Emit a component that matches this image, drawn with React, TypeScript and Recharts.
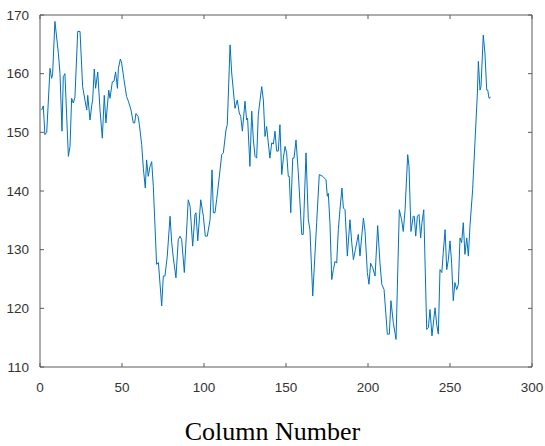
import { LineChart, Line, XAxis, YAxis } from "recharts";

const columnNumbers: number[] = [
  1, 2, 3, 4.1, 6.1, 7.1, 7.7, 9.1, 11.2, 12.2,
  13.4, 14.2, 15.2, 17.3, 18.3, 19.3, 20.3, 21.3, 23, 24.4,
  26, 27.4, 28.5, 29.1, 30.5, 31.5, 32.1, 33.1, 33.9, 35.2,
  36.6, 38, 39.2, 40.2, 41.9, 42.7, 44.1, 45.1, 46.1, 47.2,
  47.8, 49, 49.8, 51.2, 52.8, 53.9, 55.5, 56.9, 57.7, 58.5,
  59.8, 60.6, 62, 63, 64.2, 65, 66, 67.1, 68.1, 69.1,
  71.1, 72.2, 74.2, 75.2, 76.2, 77.6, 79.3, 80.3, 81.3, 82.9,
  84.3, 85.4, 86.4, 88, 90.4, 91.5, 93.1, 94.5, 95.1, 96.2,
  98, 99.6, 100.8, 102, 103.7, 104.9, 105.7, 106.7, 107.7, 109.8,
  110.8, 111.8, 113.4, 114.2, 115.9, 116.9, 118.9, 120.3, 121.5, 122.4,
  123.4, 125, 126, 126.6, 128, 129.1, 130.1, 131.1, 132.1, 133.1,
  135.2, 136.2, 137.2, 138.2, 139.2, 140.2, 141.3, 142.3, 143.3, 144.3,
  145.3, 146.3, 147.4, 148.4, 149.4, 150.4, 151.4, 152, 152.9, 154.1,
  154.9, 156.1, 157.5, 159.6, 160.5, 162.2, 163.6, 164.6, 166.3, 168.7,
  170.3, 172.4, 174.4, 175.2, 175.8, 176.8, 177.9, 178.9, 179.9, 180.9,
  181.9, 182.9, 184.1, 185, 186, 187.4, 189, 190.1, 191.1, 192.3,
  194.1, 195.1, 197.2, 198.2, 199.6, 200.6, 201.6, 202.9, 204.3, 205.9,
  207.3, 208.4, 209.8, 211.8, 213, 214, 215.4, 217.1, 219.1, 220.5,
  221.5, 222.6, 224.2, 225, 226.2, 227.6, 228.2, 229.1, 230.1, 231.1,
  232.1, 232.9, 234, 235.8, 236.8, 237.8, 239, 240.9, 241.9, 242.9,
  243.9, 245, 245.9, 247, 248, 249, 250, 251, 252, 253,
  254.1, 255.1, 256.1, 257.1, 258.1, 259.1, 260.2, 261.2, 262.2, 263.8,
  265.2, 266.7, 267.3, 268.3, 268.9, 270.3, 271.3, 272.4, 273, 273.8,
  274.8,
];

const values: number[] = [
  153.8, 154.5, 149.6, 150, 160.9, 159.2, 160, 168.9, 163.5, 160,
  150.2, 159.5, 160, 145.9, 147.6, 155.8, 155, 156, 167.2, 167.2,
  157.8, 155.5, 153.8, 156.3, 152.1, 154.5, 155.5, 160.8, 157.5, 160.3,
  153.8, 149, 156.3, 151.6, 157.2, 155.8, 158.6, 158.7, 160.3, 157.5,
  160.9, 162.5, 161.8, 159, 156.1, 155.3, 153.8, 151.6, 151.6, 153.2,
  152.7, 151.3, 147.9, 143.9, 140.5, 145.3, 142.5, 144.2, 145, 140.8,
  127.5, 127.8, 120.4, 125.5, 125.5, 128.9, 135.7, 131.2, 128.6, 125.2,
  131.7, 132.3, 131.7, 126.1, 138.5, 137.4, 130.6, 136, 136.3, 131.5,
  138.5, 135.7, 132.3, 132.3, 135.1, 143.6, 136.3, 136.3, 138.5, 143.6,
  146.2, 146.5, 150.4, 151.3, 164.9, 160.1, 154.1, 155.5, 153.3, 152.7,
  150.2, 155.3, 152.1, 152.4, 144.2, 153.6, 148.7, 145.9, 145.6, 153,
  157.8, 155.5, 149.3, 151, 148.2, 145.6, 148.2, 148, 150.2, 146.8,
  146.8, 151.3, 142.8, 145.6, 147.6, 146.5, 142.5, 142.5, 136.3, 145.6,
  145.6, 148.7, 143.1, 132.6, 132.6, 146.5, 135.1, 133.4, 122.1, 134.6,
  142.8, 142.5, 141.9, 139.1, 139.6, 134.6, 124.9, 126.6, 128, 127.7,
  133.4, 136.8, 140.5, 137.1, 136.8, 128.9, 135.1, 131.2, 128.3, 130,
  132.6, 128.9, 135.4, 133.1, 126.1, 124.1, 127.7, 126.9, 125.5, 134.1,
  127.7, 124.1, 123.2, 115.6, 115.6, 121.3, 117.6, 114.7, 136.8, 135.1,
  133.1, 136.8, 146.2, 144.2, 133.1, 135.7, 135.7, 132.3, 135.7, 136,
  132, 134.6, 136.8, 116.4, 116.7, 119.8, 115.3, 120.1, 117.2, 115.6,
  126.6, 126.1, 129.5, 133.4, 126.6, 128.3, 131.5, 127.7, 121.3, 124.4,
  123.2, 124.1, 132, 131.2, 134.6, 129.2, 132, 128.9, 134.1, 140.2,
  148.2, 156.7, 162.1, 157.2, 157.8, 166.6, 163.5, 157.2, 157.2, 155.8,
  156,
];

const xTicks = [0, 50, 100, 150, 200, 250, 300];
const yTicks = [110, 120, 130, 140, 150, 160, 170];

const data = columnNumbers.map((c, i) => ({ column: c, value: values[i] }));

const axisColor = "#5a5a5a";
const tickFont = { fill: "#333", fontSize: 13.5, fontFamily: "'Liberation Sans', Arial, sans-serif" };
const blank = () => "";

export default function App() {
  return (
    <div style={{ position: "absolute", left: 0, top: 0, width: 545, height: 446, background: "#fff" }}>
      <LineChart width={545} height={446} data={data} margin={{ top: 14, right: 12, bottom: 0, left: 0 }}>
        <XAxis
          xAxisId="bottom"
          dataKey="column"
          type="number"
          domain={[0, 300]}
          ticks={xTicks}
          allowDataOverflow
          height={79}
          stroke={axisColor}
          tickSize={-4}
          tickMargin={19}
          tick={tickFont}
        />
        <XAxis
          xAxisId="top"
          orientation="top"
          dataKey="column"
          type="number"
          domain={[0, 300]}
          ticks={xTicks}
          allowDataOverflow
          height={1}
          stroke={axisColor}
          tickSize={-4}
          tickFormatter={blank}
        />
        <YAxis
          yAxisId="left"
          type="number"
          domain={[110, 170]}
          ticks={yTicks}
          allowDataOverflow
          width={40}
          stroke={axisColor}
          tickSize={-4}
          tickMargin={15}
          tick={tickFont}
        />
        <YAxis
          yAxisId="right"
          orientation="right"
          type="number"
          domain={[110, 170]}
          ticks={yTicks}
          allowDataOverflow
          width={1}
          stroke={axisColor}
          tickSize={-4}
          tickFormatter={blank}
        />
        <Line
          xAxisId="bottom"
          yAxisId="left"
          dataKey="value"
          type="linear"
          stroke="#0072BD"
          strokeWidth={1}
          dot={false}
          isAnimationActive={false}
        />
      </LineChart>
      <div
        style={{
          position: "absolute",
          left: 0,
          top: 419,
          width: 545,
          textAlign: "center",
          fontFamily: "'Liberation Serif', 'Times New Roman', serif",
          fontSize: 26,
          lineHeight: 1,
          color: "#000",
        }}
      >
        Column Number
      </div>
    </div>
  );
}
